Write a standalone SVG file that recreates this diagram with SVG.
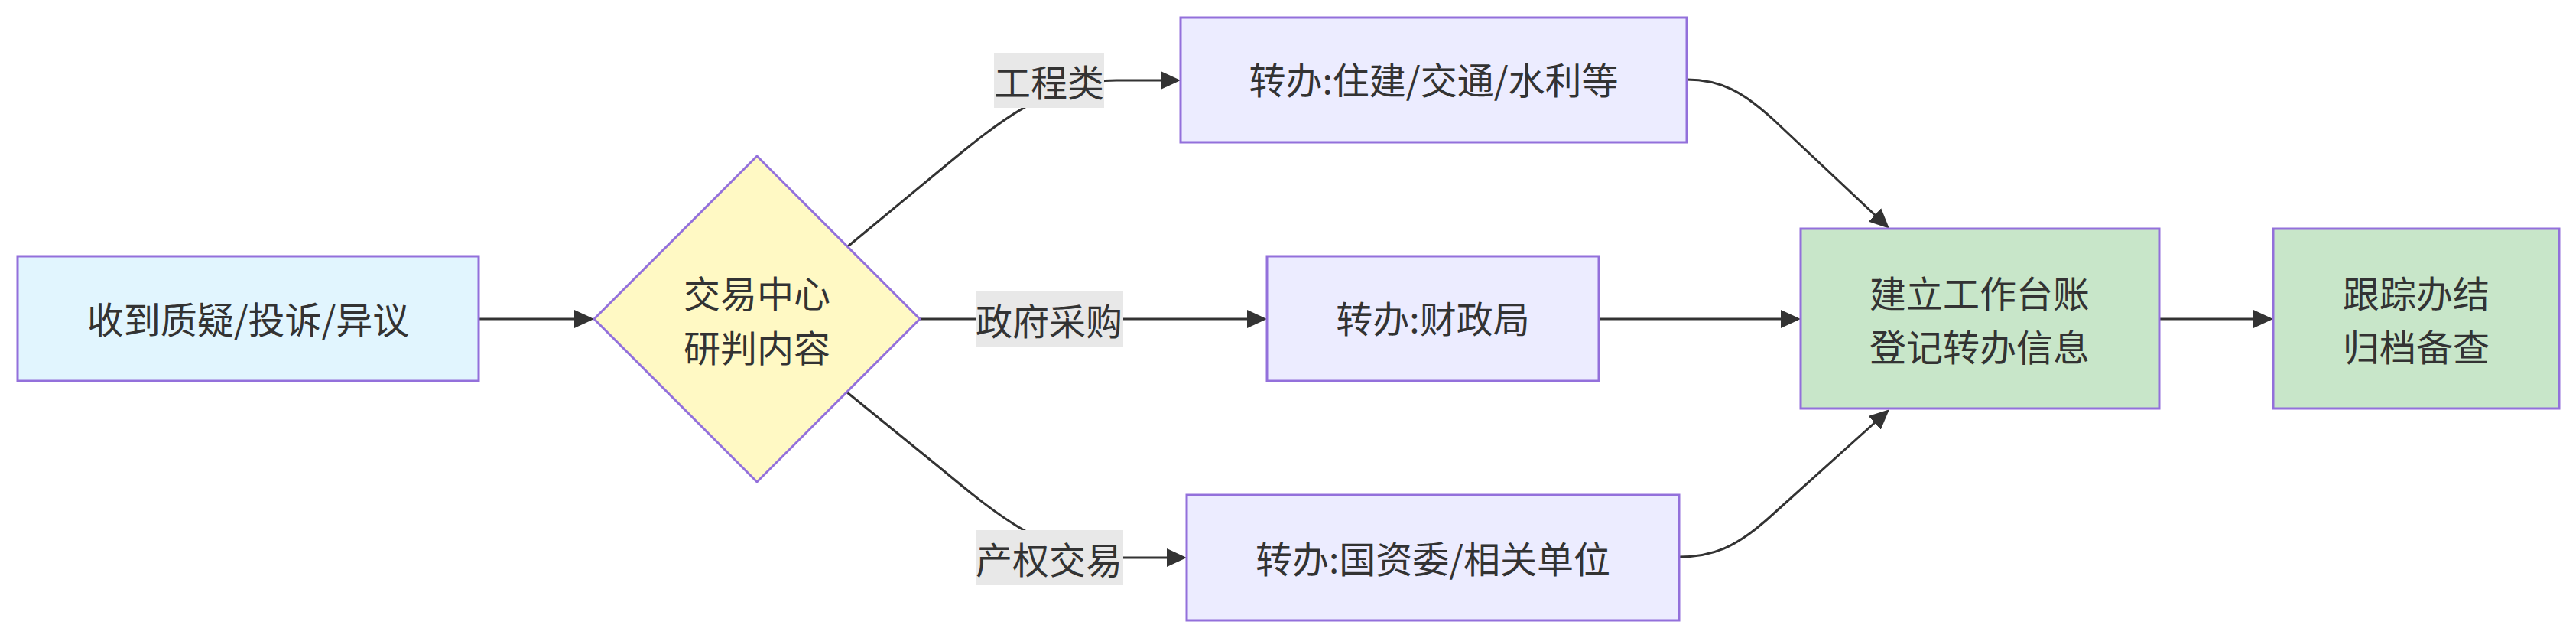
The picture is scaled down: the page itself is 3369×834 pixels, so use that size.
<svg xmlns="http://www.w3.org/2000/svg" width="3369" height="834" viewBox="0 0 3369 834">
<style>
.node rect, .node polygon { stroke: #9370DB; stroke-width: 3; }
.t { font-family: "Noto Sans CJK SC", "Noto Sans", sans-serif; font-size: 48px; fill: #333333; text-anchor: middle; dominant-baseline: central; }
.edge { fill: none; stroke: #333333; stroke-width: 3; }
.lbl rect { fill: #e8e8e8; }
</style>
<defs>
<marker id="arrow" viewBox="0 0 26 24" refX="22" refY="12" markerWidth="26" markerHeight="24" markerUnits="userSpaceOnUse" orient="auto">
<path d="M0,0 L26,12 L0,24 z" fill="#333333"/>
</marker>
</defs>
<rect width="3369" height="834" fill="#ffffff"/>
<g id="connectors">
<path class="edge" d="M626,417 L773,417" marker-end="url(#arrow)"/>
<path class="edge" d="M1109,322 L1230,222 C1300,164 1370,105 1460,105 L1540,105" marker-end="url(#arrow)"/>
<path class="edge" d="M1203,417 L1653,417" marker-end="url(#arrow)"/>
<path class="edge" d="M1108,513 L1230,612 C1300,670 1370,729 1460,729 L1548,729" marker-end="url(#arrow)"/>
<path class="edge" d="M2206,104 C2250,104 2280,120 2320,157 L2468,296" marker-end="url(#arrow)"/>
<path class="edge" d="M2091,417 L2351,417" marker-end="url(#arrow)"/>
<path class="edge" d="M2196,728 C2240,728 2270,715 2310,680 L2468,538" marker-end="url(#arrow)"/>
<path class="edge" d="M2824,417 L2969,417" marker-end="url(#arrow)"/>
</g>
<g id="edge-labels">
<g class="lbl" id="label-gc"><rect x="1300" y="69" width="144" height="72"/><text class="t" x="1372" y="105">工程类</text></g>
<g class="lbl" id="label-zfcg"><rect x="1276" y="381" width="193" height="72"/><text class="t" x="1372" y="417">政府采购</text></g>
<g class="lbl" id="label-cqjy"><rect x="1276" y="693" width="193" height="72"/><text class="t" x="1372" y="729">产权交易</text></g>
</g>
<g class="node" id="n-receive">
<rect x="23" y="335" width="603" height="163" fill="#e1f5fe"/>
<text class="t" x="324.5" y="415">收到质疑/投诉/异议</text>
</g>
<g class="node" id="n-judge">
<polygon points="990,204 1203,417 990,630 777,417" fill="#fff9c4"/>
<text class="t" x="990" y="381">交易中心</text>
<text class="t" x="990" y="452">研判内容</text>
</g>
<g class="node" id="n-gc">
<rect x="1544" y="23" width="662" height="163" fill="#ececff"/>
<text class="t" x="1875" y="102">转办:住建/交通/水利等</text>
</g>
<g class="node" id="n-czj">
<rect x="1657" y="335" width="434" height="163" fill="#ececff"/>
<text class="t" x="1874" y="414">转办:财政局</text>
</g>
<g class="node" id="n-gzw">
<rect x="1552" y="647" width="644" height="164" fill="#ececff"/>
<text class="t" x="1874" y="728">转办:国资委/相关单位</text>
</g>
<g class="node" id="n-ledger">
<rect x="2355" y="299" width="469" height="235" fill="#c8e6c9"/>
<text class="t" x="2589" y="381">建立工作台账</text>
<text class="t" x="2589" y="451">登记转办信息</text>
</g>
<g class="node" id="n-track">
<rect x="2973" y="299" width="374" height="235" fill="#c8e6c9"/>
<text class="t" x="3160" y="381">跟踪办结</text>
<text class="t" x="3160" y="451">归档备查</text>
</g>
</svg>
